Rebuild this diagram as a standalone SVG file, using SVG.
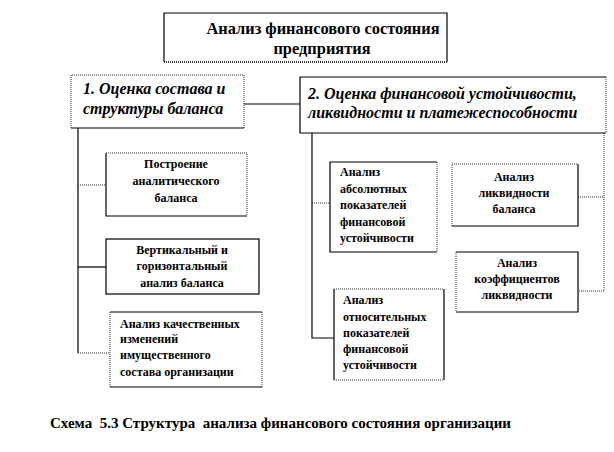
<svg xmlns="http://www.w3.org/2000/svg" width="614" height="452" viewBox="0 0 614 452">
<style>
text{font-family:"Liberation Serif","Times New Roman",serif;font-weight:bold;fill:#000}
.t{font-size:16.4px}
.h{font-size:16px;font-style:italic}
.s{font-size:12px}
.c{text-anchor:middle}
.sol{stroke:#000;stroke-width:1.2;fill:none}
.dot{stroke:#333;stroke-width:1;stroke-dasharray:1 1;fill:none}
</style>
<rect width="614" height="452" fill="#fff"/>
<g id="connectors">
<line class="sol" x1="244" y1="104" x2="300" y2="104"/>
<path class="sol" d="M78 128V353"/>
<line class="dot" x1="78" y1="185" x2="106" y2="185"/>
<line class="sol" x1="78" y1="267" x2="106" y2="267"/>
<line class="dot" x1="78" y1="353" x2="110" y2="353"/>
<path class="sol" d="M312 133V338H334"/>
<line class="dot" x1="312" y1="203" x2="330" y2="203"/>
<path class="dot" d="M604 133V291H578"/>
<line class="dot" x1="578" y1="197" x2="604" y2="197"/>
</g>
<g id="top">
<path class="sol" d="M164 62V13H447V62"/><path class="dot" d="M164 62H447" style="stroke-width:2"/>
<text class="t c" x="323" y="34">Анализ финансового состояния</text>
<text class="t c" x="322" y="54">предприятия</text>
</g>
<g id="n1">
<path class="dot" d="M71 128V75H244V128"/><path class="sol" d="M71 128H244"/>
<text class="h" x="83" y="94">1. Оценка состава и</text>
<text class="h" x="83" y="114">структуры баланса</text>
</g>
<g id="n2">
<path class="sol" d="M606 133H300V77H606"/><path class="dot" d="M606 77V133"/>
<text class="h" x="308" y="99">2. Оценка финансовой устойчивости,</text>
<text class="h" x="308" y="118">ликвидности и платежеспособности</text>
</g>
<g id="n3">
<path class="sol" d="M106 153V216H247"/><path class="dot" d="M106 153H247V216"/>
<text class="s c" x="176" y="168">Построение</text>
<text class="s c" x="176" y="185">аналитического</text>
<text class="s c" x="176" y="202">баланса</text>
</g>
<g id="n4">
<rect class="sol" x="106" y="239" width="153" height="55"/>
<text class="s c" x="182" y="254">Вертикальный и</text>
<text class="s c" x="182" y="270">горизонтальный</text>
<text class="s c" x="182" y="287">анализ баланса</text>
</g>
<g id="n5">
<path class="sol" d="M110 312H262M110 387H262"/><path class="dot" d="M110 312V387M262 312V387"/>
<text class="s" x="120" y="328">Анализ качественных</text>
<text class="s" x="120" y="343">изменений</text>
<text class="s" x="120" y="359">имущественного</text>
<text class="s" x="120" y="376">состава организации</text>
</g>
<g id="n6">
<path class="sol" d="M437 162H330V252H437"/><path class="dot" d="M437 162V252"/>
<text class="s" x="340" y="176">Анализ</text>
<text class="s" x="340" y="193">абсолютных</text>
<text class="s" x="340" y="209">показателей</text>
<text class="s" x="340" y="226">финансовой</text>
<text class="s" x="340" y="242">устойчивости</text>
</g>
<g id="n7">
<path class="dot" d="M452 226V164H578"/><path class="sol" d="M578 164V226H452"/>
<text class="s c" x="514" y="181">Анализ</text>
<text class="s c" x="514" y="197">ликвидности</text>
<text class="s c" x="514" y="213">баланса</text>
</g>
<g id="n8">
<path class="dot" d="M456 252V312"/><path class="sol" d="M456 252H578V312H456"/>
<text class="s c" x="517" y="267">Анализ</text>
<text class="s c" x="517" y="283">коэффициентов</text>
<text class="s c" x="517" y="299">ликвидности</text>
</g>
<g id="n9">
<path class="sol" d="M334 289V380M444 289V380"/><path class="dot" d="M334 289H444M334 380H444"/>
<text class="s" x="343" y="304">Анализ</text>
<text class="s" x="343" y="321">относительных</text>
<text class="s" x="343" y="337">показателей</text>
<text class="s" x="343" y="353">финансовой</text>
<text class="s" x="343" y="369">устойчивости</text>
</g>
<text x="50" y="428" style="font-size:15px;white-space:pre">Схема  5.3 Структура  анализа финансового состояния организации</text>
</svg>
